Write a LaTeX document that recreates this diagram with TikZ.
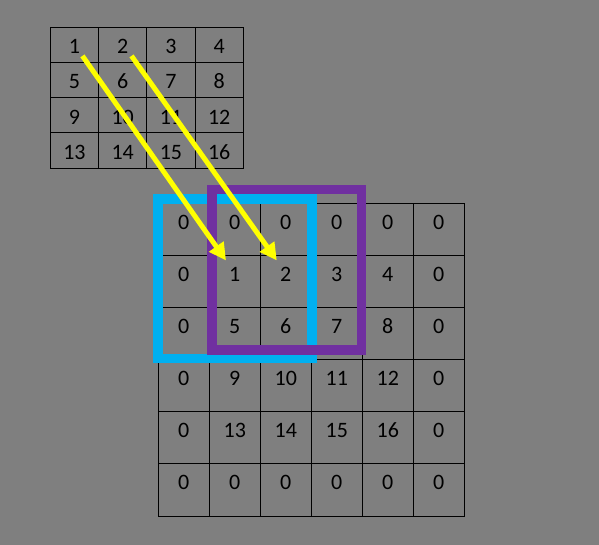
\documentclass[tikz,border=0pt]{standalone}
\usepackage{fontspec}
\setmainfont{Carlito}
\usetikzlibrary{arrows.meta}
\definecolor{bggray}{RGB}{127,127,127}
\definecolor{padblue}{RGB}{0,176,240}
\definecolor{kernpurple}{RGB}{112,48,160}
\definecolor{arrowyellow}{RGB}{255,255,0}
\tikzstyle{smallcell} = [rectangle, draw=black, line width=0.8pt, minimum width=48.25pt, minimum height=35.2pt, inner sep=0pt, text height=17.8pt, text depth=0pt, font=\fontsize{22}{22}\selectfont]
\tikzstyle{bigcell} = [rectangle, draw=black, line width=0.8pt, minimum width=51pt, minimum height=52.1pt, inner sep=0pt, text height=10pt, text depth=10pt, font=\fontsize{22}{22}\selectfont]
\tikzstyle{window} = [line width=9.8pt]
\tikzstyle{arrow} = [line width=5pt, draw=arrowyellow, -{Triangle[length=17pt,width=17pt]}]

\begin{document}
\begin{tikzpicture}[x=1pt, y=-1pt]
\fill[bggray] (0,0) rectangle (599,545);
\useasboundingbox (0,0) rectangle (599,545);
% input 4x4
\foreach \i in {1,...,4} {
  \foreach \j in {1,...,4} {
    \pgfmathtruncatemacro{\val}{(\i-1)*4+\j}
    \node (s-\i-\j) [smallcell] at ({50.3+48.25*(\j-0.5)},{27.3+35.2*(\i-0.5)}) {\val};
  }
}
% padded 6x6
\foreach \i in {1,...,6} {
  \foreach \j in {1,...,6} {
    \pgfmathtruncatemacro{\val}{(\i>1)*(\i<6)*(\j>1)*(\j<6)*((\i-2)*4+\j-1)}
    \node (b-\i-\j) [bigcell] at ({158.3+51*(\j-0.5)},{203.3+52.1*(\i-0.5)}) {\val};
  }
}
% windows
\draw[window, padblue] ([yshift=4pt]b-1-1.north west) rectangle ([yshift=1.5pt]b-3-3.south east);
\draw[window, kernpurple] ([shift={(2.7pt,13.3pt)}]b-1-2.north west) rectangle ([shift={(-1.3pt,10.4pt)}]b-3-4.south east);
% arrows
\coordinate (from1) at ([shift={(8pt,-11pt)}]s-1-1.center);
\coordinate (to1) at ([shift={(-8.8pt,21pt)}]b-2-2.center);
\coordinate (from2) at ([shift={(8.8pt,-11pt)}]s-1-2.center);
\coordinate (to2) at ([shift={(-9pt,21pt)}]b-2-3.center);
\draw[arrow] (from1) -- (to1);
\draw[arrow] (from2) -- (to2);
\end{tikzpicture}
\end{document}
